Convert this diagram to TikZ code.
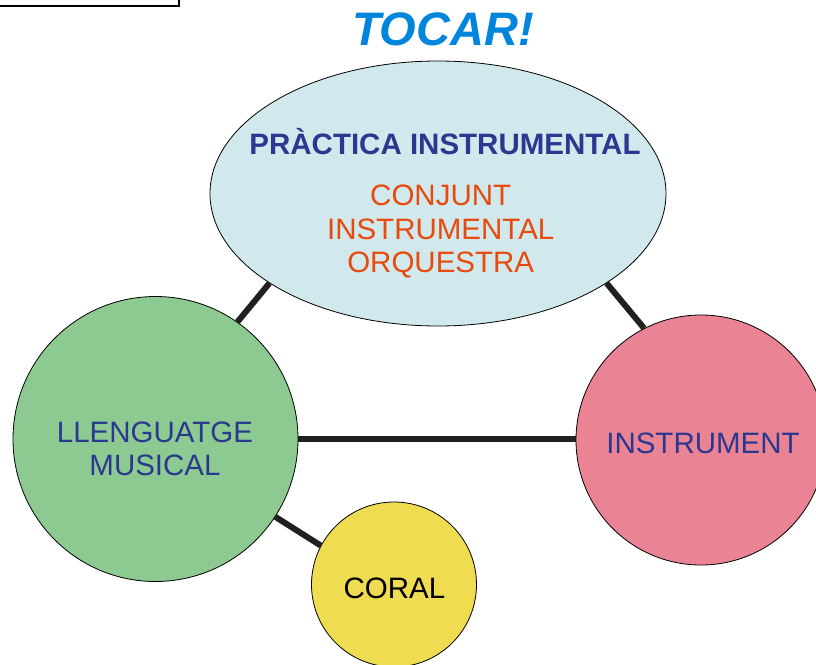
\documentclass[tikz,border=0pt]{standalone}
\usepackage{fontspec}
\setmainfont{Liberation Sans}
\usetikzlibrary{shapes.geometric,backgrounds}
\definecolor{topfill}{RGB}{209,233,237}
\definecolor{greenfill}{RGB}{141,202,145}
\definecolor{pinkfill}{RGB}{234,131,148}
\definecolor{yellowfill}{RGB}{240,220,80}
\definecolor{navy}{RGB}{44,56,143}
\definecolor{orangetxt}{RGB}{232,74,12}
\definecolor{titleblue}{RGB}{0,133,221}
\definecolor{linkcol}{RGB}{35,31,32}
\tikzset{
  blob/.style={draw=black, line width=0.8pt, inner sep=0pt},
  link/.style={draw=linkcol, line width=6pt},
  lbl/.style={anchor=base, inner sep=0pt, font=\fontsize{29.5}{33}\selectfont},
}
\begin{document}
\begin{tikzpicture}[x=1pt,y=-1pt]
\clip (0,0) rectangle (816,664);
% partial frame at top left
\draw[line width=2pt] (-5,5.5) -| (179,-5);
% title
\node[anchor=base, inner sep=0pt, text=titleblue, font=\fontsize{47}{52}\bfseries\itshape\selectfont] (title) at (443,45) {TOCAR!};
% shapes
\node[blob, ellipse, fill=topfill, minimum width=456pt, minimum height=265pt] (top) at (438,193.5) {};
\node[blob, circle, fill=greenfill, minimum size=285pt] (green) at (155.5,439) {};
\node[blob, circle, fill=pinkfill, minimum size=250pt] (pink) at (701,440) {};
\node[blob, circle, fill=yellowfill, minimum size=165pt] (coral) at (394,584.5) {};
% connectors
\begin{scope}[on background layer]
\draw[link] (top.208) -- (green.55.5);
\draw[link] (top.332.4) -- (pink.117.7);
\draw[link] (green.0) -- (green.0 -| pink.west);
\draw[link] (green.-33.9) -- (coral.152);
\end{scope}
% texts
\node[lbl, text=navy, font=\fontsize{29.5}{33}\bfseries\selectfont] (t1) at (445,154) {PRÀCTICA INSTRUMENTAL};
\node[lbl, text=orangetxt] (t2) at (440.7,205.7) {CONJUNT};
\node[lbl, text=orangetxt] (t3) at (440.7,239) {INSTRUMENTAL};
\node[lbl, text=orangetxt] (t4) at (440.7,272.3) {ORQUESTRA};
\node[lbl, text=navy] (t5) at (155,442) {LLENGUATGE};
\node[lbl, text=navy] (t6) at (155,475.7) {MUSICAL};
\node[lbl, text=navy] (t7) at (703,453.3) {INSTRUMENT};
\node[lbl, text=black] (t8) at (394.5,598) {CORAL};
\end{tikzpicture}
\end{document}
